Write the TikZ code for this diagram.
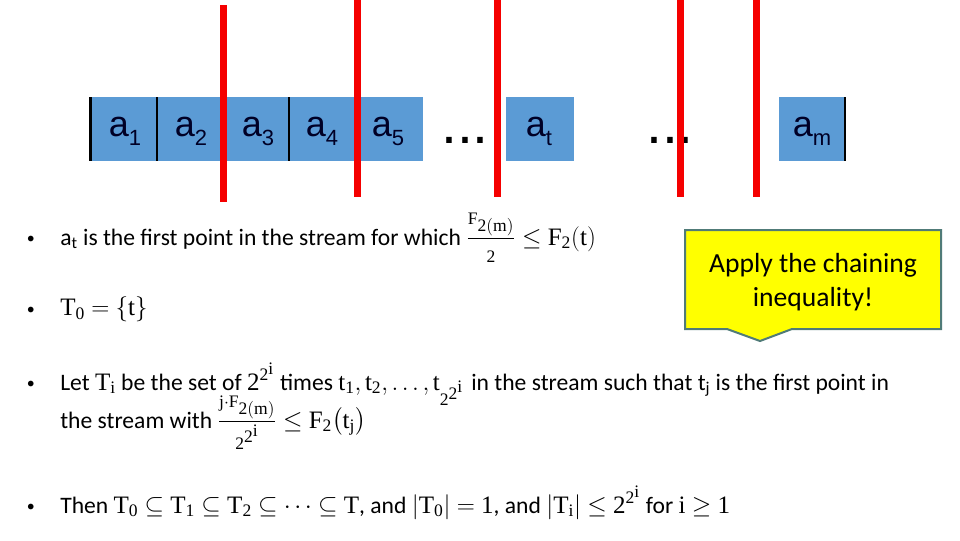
\RequirePackage{fix-cm}
\documentclass[tikz,border=0pt]{standalone}
\usepackage{fontspec}
\usepackage{amsmath}
\setmainfont{Carlito}
\setmathrm{Liberation Serif}
\newfontfamily\cellfont{Liberation Sans}
\definecolor{cellblue}{HTML}{5B9BD5}
\definecolor{calloutedge}{HTML}{507B78}
\definecolor{calloutfill}{HTML}{FFFF00}
\definecolor{barred}{HTML}{F50000}
\newcommand{\cellname}[1]{{\fontsize{27}{30}\cellfont a\raisebox{-6.75pt}{\fontsize{16.5}{18}\selectfont #1}}}
\newcommand{\mr}[1]{\mathrm{#1}}
\newcommand{\mth}[1]{{\fontsize{18.8}{21}\selectfont\thickmuskip=4.5mu\thinmuskip=2.5mu$#1$}}
\newcommand{\twotwoi}{\mr{2}^{\scriptstyle\mr{2}^{\scriptstyle\mr{i}}}}
\tikzset{
  sepline/.style={line width=1.5pt,black},
  barline/.style={line width=5.2pt,barred},
  celltext/.style={inner sep=0pt,anchor=base west,text=black!85!blue},
  bodytext/.style={anchor=base west,inner sep=0pt,font=\fontsize{17.7}{21}\selectfont},
  bullettext/.style={anchor=base west,inner sep=0pt,font=\fontsize{12}{14}\selectfont},
  dotstext/.style={inner sep=0pt,anchor=base,font=\fontsize{43}{46}\cellfont},
}
\begin{document}
\begin{tikzpicture}[x=0.75pt,y=-0.75pt]
\useasboundingbox[fill=white] (0,0) rectangle (960,540);
\fill[cellblue] (91,97) rectangle (423,161);
\fill[cellblue] (506,97) rectangle (574,161);
\fill[cellblue] (779,97) rectangle (844,161);
\node[celltext] (a1) at (108.5,136) {\cellname{1}};
\node[celltext] (a2) at (174.5,136) {\cellname{2}};
\node[celltext] (a3) at (241.5,136) {\cellname{3}};
\node[celltext] (a4) at (305.5,136) {\cellname{4}};
\node[celltext] (a5) at (371.5,136) {\cellname{5}};
\node[celltext] (at) at (525.5,136) {\cellname{t}};
\node[celltext] (am) at (792.5,136) {\cellname{m}};
\draw[line width=2.2pt] (90.5,97) -- (90.5,161);
\draw[sepline] (157,97) -- (157,161);
\draw[sepline] (289,97) -- (289,161);
\draw[line width=2.2pt] (845,97) -- (845,161);
\node[dotstext] (dotsa) at (465,143) {...};
\node[dotstext] (dotsb) at (670,143) {...};
\draw[barline] (223.5,5) -- (223.5,202);
\foreach \xpos in {357.5,497.5,680.5,756.5}
  \draw[barline] (\xpos,0) -- (\xpos,197);
\draw[calloutedge,line width=1.5pt,fill=calloutfill] (685,230) -- (941,230) -- (941,329) -- (792,329) -- (760,341) -- (727,329) -- (685,329) -- cycle;
\node[align=center,inner sep=0pt,font=\fontsize{20.7}{25.5}\selectfont] (note) at (813,282) {Apply the chaining\\inequality!};
\foreach \ypos/\bname in {243/ba,314/bb,388/bc,511/bd}
  \node[bullettext] (\bname) at (26.5,\ypos) {•};
\node[bodytext] (lineA) at (60,245) {a\textsubscript{t} is the first point in the stream for which \mth{\dfrac{\scriptstyle\mr{F}_{\scriptstyle\mr{2(m)}}}{\scriptstyle\mr{2}}\leq\mr{F}_{\mr{2}}(\mr{t})}};
\node[bodytext] (lineB) at (60,315.5) {\mth{\mr{T}_{\mr{0}}=\{\mr{t}\}}};
\node[bodytext] (lineC) at (60,390) {Let \mth{\mr{T}_{\mr{i}}} be the set of \mth{\twotwoi} times \mth{\mr{t}_{\mr{1}},\mr{t}_{\mr{2}},\dots,\mr{t}_{\scriptstyle\twotwoi}}};
\node[bodytext] (lineCend) at (471,390) {in the stream such that t\textsubscript{j} is the first point in};
\node[bodytext] (lineD) at (60,428) {the stream with \mth{\dfrac{\scriptstyle\mr{j}\cdot\mr{F}_{\scriptstyle\mr{2(m)}}}{\scriptstyle\twotwoi}\leq\mr{F}_{\mr{2}}\bigl(\mr{t}_{\mr{j}}\bigr)}};
\node[bodytext] (lineE) at (60,513) {Then \mth{\mr{T}_{\mr{0}}\subseteq\mr{T}_{\mr{1}}\subseteq\mr{T}_{\mr{2}}\subseteq\cdots\subseteq\mr{T}}, and \mth{|\mr{T}_{\mr{0}}|=\mr{1}}, and \mth{|\mr{T}_{\mr{i}}|\leq\twotwoi} for \mth{\mr{i}\geq\mr{1}}};
\end{tikzpicture}
\end{document}
